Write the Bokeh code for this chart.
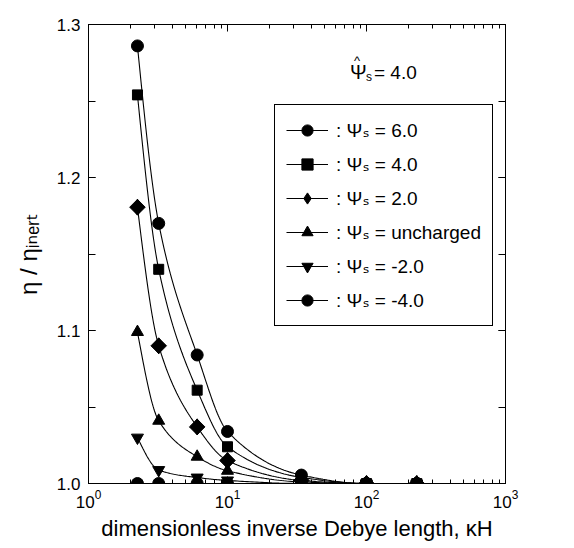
import numpy as np
from bokeh.plotting import figure
from bokeh.models import (LogAxis, LinearAxis, LogTicker, SingleIntervalTicker, PrintfTickFormatter,
                          CustomJSTickFormatter, Legend, LegendItem, Label, Range1d)
from bokeh.embed import file_html
from bokeh.resources import INLINE

# ---------------- data ----------------
kappa_H = [2.25, 3.2, 6.05, 10.0, 34.0, 100.0, 230.0]
eta_psi_p6 = [1.286, 1.170, 1.084, 1.034, 1.0055, 1.000, 1.000]
eta_psi_p4 = [1.254, 1.140, 1.061, 1.024, 1.004, 1.000, 1.000]
eta_psi_p2 = [1.1806, 1.090, 1.037, 1.015, 1.002, 1.000, 1.000]
eta_uncharged = [1.099, 1.041, 1.0175, 1.0083, 1.001, 1.000, 1.000]
eta_psi_m2 = [1.030, 1.0088, 1.0039, 1.002, 1.000, 1.000, 1.000]
eta_psi_m4 = [1.000, 1.000, 1.000, 1.000, 1.000, 1.000, 1.000]

series_labels = [": Ψₛ = 6.0", ": Ψₛ = 4.0", ": Ψₛ = 2.0",
                 ": Ψₛ = uncharged", ": Ψₛ = -2.0", ": Ψₛ = -4.0"]
x_label = "dimensionless inverse Debye length, κH"
y_label = "η / ηᵢₙₑᵣₜ"

FONT = "Liberation Sans, Arial, DejaVu Sans"


def pchip_curve(xs, ys, per_seg=30):
    """Smooth monotone cubic rendering of the points in log10(x) space."""
    u = np.log10(np.asarray(xs, float))
    y = np.asarray(ys, float)
    h = np.diff(u)
    d = np.diff(y) / h
    n = len(u)
    m = np.zeros(n)
    for k in range(1, n - 1):
        if d[k - 1] * d[k] <= 0:
            m[k] = 0.0
        else:
            w1 = 2 * h[k] + h[k - 1]
            w2 = h[k] + 2 * h[k - 1]
            m[k] = (w1 + w2) / (w1 / d[k - 1] + w2 / d[k])
    m[-1] = d[-1]
    m0 = ((2 * h[0] + h[1]) * d[0] - h[0] * d[1]) / (h[0] + h[1])
    if np.sign(m0) != np.sign(d[0]):
        m0 = 0.0
    m[0] = m0
    uu, yy = [], []
    for k in range(n - 1):
        t = np.linspace(0, 1, per_seg, endpoint=(k == n - 2))
        h00 = 2 * t**3 - 3 * t**2 + 1
        h10 = t**3 - 2 * t**2 + t
        h01 = -2 * t**3 + 3 * t**2
        h11 = t**3 - t**2
        uu.append(u[k] + t * h[k])
        yy.append(h00 * y[k] + h10 * h[k] * m[k] + h01 * y[k + 1] + h11 * h[k] * m[k + 1])
    return 10 ** np.concatenate(uu), np.concatenate(yy)


p = figure(width=574, height=548, x_axis_type="log",
           x_range=Range1d(1, 1000), y_range=Range1d(1.0, 1.3),
           output_backend="svg", toolbar_location=None,
           min_border_left=88, min_border_right=69, min_border_top=24, min_border_bottom=65)
p.background_fill_color = "white"
p.border_fill_color = "white"
p.outline_line_color = "black"
p.outline_line_width = 1
p.xgrid.visible = False
p.ygrid.visible = False

# bottom axis
xa = p.xaxis[0]
xa.ticker = LogTicker(desired_num_ticks=4, num_minor_ticks=10)
xa.major_tick_in = 7
xa.major_tick_out = 0
xa.minor_tick_in = 4
xa.minor_tick_out = 0
xa.major_label_text_font = FONT
xa.major_label_text_font_size = "17px"
xa.major_label_text_color = "black"
xa.major_label_standoff = 6
xa.axis_label = x_label
xa.axis_label_text_font = FONT
xa.axis_label_text_font_size = "22px"
xa.axis_label_text_font_style = "normal"
xa.axis_label_text_color = "black"
xa.axis_label_standoff = 5
xa.axis_line_color = "black"
xa.major_tick_line_color = "black"
xa.minor_tick_line_color = "black"

# left axis
ya = p.yaxis[0]
ya.ticker = SingleIntervalTicker(interval=0.1, num_minor_ticks=2)
ya.formatter = PrintfTickFormatter(format="%.1f")
ya.major_tick_in = 7
ya.major_tick_out = 0
ya.minor_tick_in = 7
ya.minor_tick_out = 0
ya.major_label_text_font = FONT
ya.major_label_text_font_size = "17px"
ya.major_label_text_color = "black"
ya.major_label_standoff = 8
ya.axis_label = y_label
ya.axis_label_text_font = FONT
ya.axis_label_text_font_size = "24px"
ya.axis_label_text_font_style = "normal"
ya.axis_label_text_color = "black"
ya.axis_label_standoff = 12
ya.axis_line_color = "black"
ya.major_tick_line_color = "black"
ya.minor_tick_line_color = "black"

blank = CustomJSTickFormatter(code="return ''")
top = LogAxis(ticker=LogTicker(desired_num_ticks=4, num_minor_ticks=10), formatter=blank,
              major_tick_in=7, major_tick_out=0, minor_tick_in=4, minor_tick_out=0,
              axis_line_color="black", major_tick_line_color="black", minor_tick_line_color="black")
p.add_layout(top, "above")
right = LinearAxis(ticker=SingleIntervalTicker(interval=0.1, num_minor_ticks=2), formatter=blank,
                   major_tick_in=7, major_tick_out=0, minor_tick_in=7, minor_tick_out=0,
                   axis_line_color="black", major_tick_line_color="black", minor_tick_line_color="black")
p.add_layout(right, "right")

all_series = [eta_psi_p6, eta_psi_p4, eta_psi_p2, eta_uncharged, eta_psi_m2, eta_psi_m4]
markers = ["circle", "square", "diamond", "triangle", "inverted_triangle", "circle"]
sizes = [12, 10, 16, 12, 12, 12]

order = [5, 4, 3, 2, 1, 0]
renderers = {}
for i in order:
    ys = all_series[i]
    cx, cy = pchip_curve(kappa_H, ys)
    ln = p.line(cx, cy, line_color="black", line_width=1.1)
    if markers[i] == "diamond":
        # broader diamond body: rotated square under the diamond marker
        p.scatter(kappa_H, ys, marker="square", size=11, angle=np.pi / 4,
                  fill_color="black", line_color="black")
    sc = p.scatter(kappa_H, ys, marker=markers[i], size=sizes[i],
                   fill_color="black", line_color="black")
    renderers[i] = (ln, sc)

items = [LegendItem(label=series_labels[i], renderers=list(renderers[i])) for i in range(6)]

legend = Legend(items=items, location=(186, 157), glyph_width=42, glyph_height=28,
                label_height=28, spacing=6, padding=11, label_standoff=8,
                label_text_font=FONT, label_text_font_size="19px", label_text_color="black",
                border_line_color="black", border_line_width=1, border_line_alpha=1.0,
                background_fill_alpha=1.0, margin=0)
p.add_layout(legend, "center")

# annotation  Ψ̂s = 4.0
ax_x, ax_y = 70.0, 1.2688
p.add_layout(Label(x=ax_x, y=ax_y, x_offset=5, text="Ψ", text_font=FONT, text_font_size="20px",
                   text_baseline="alphabetic", text_color="black"))
p.add_layout(Label(x=ax_x, y=ax_y, x_offset=9, y_offset=12, text="^", text_font=FONT,
                   text_font_size="13px", text_baseline="alphabetic", text_color="black"))
p.add_layout(Label(x=ax_x, y=ax_y, x_offset=21, y_offset=-5, text="s", text_font=FONT,
                   text_font_size="12px", text_baseline="alphabetic", text_color="black"))
p.add_layout(Label(x=ax_x, y=ax_y, x_offset=29, text="= 4.0", text_font=FONT,
                   text_font_size="19px", text_baseline="alphabetic", text_color="black"))

open("out.html", "w").write(file_html(p, INLINE))
